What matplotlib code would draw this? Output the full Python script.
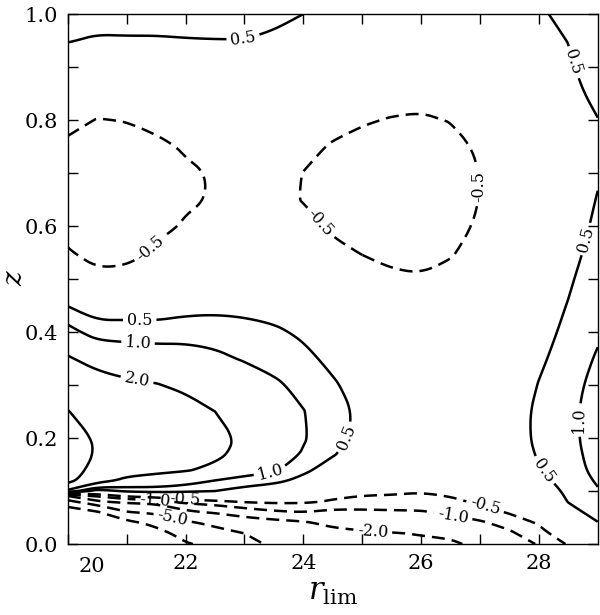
import matplotlib
matplotlib.use("Agg")
import matplotlib.pyplot as plt
from matplotlib.path import Path
from matplotlib.ticker import FormatStrFormatter
import numpy as np

plt.rcParams['font.family'] = ['DejaVu Serif']
plt.rcParams['mathtext.fontset'] = 'dejavuserif'

# grid of the contoured quantity
r_lim = [20.0, 20.5, 21.0, 21.5, 22.0, 22.5, 23.0, 23.5, 24.0, 24.5,
         25.0, 25.5, 26.0, 26.5, 27.0, 27.5, 28.0, 28.5, 29.0]
z = [0.0, 0.02, 0.04, 0.06, 0.08, 0.1, 0.12, 0.14, 0.17, 0.2, 0.25, 0.3, 0.35,
     0.4, 0.45, 0.5, 0.55, 0.6, 0.65, 0.7, 0.75, 0.8, 0.85, 0.9, 0.95, 1.0]

# one row per r_lim column, values going up in z
field_by_r = [
    [-30, -25, -20, -14, -6, 1.5, 6, 7, 7.5, 7, 5.1, 3.2, 2.1, 1.2, 0.48, -0.1, -0.45, -0.7, -0.8, -0.75, -0.6, -0.35, -0.05, 0.25, 0.52, 0.7],
    [-22, -18, -14, -10.5, -2.2, 0.2, 2.5, 3.6, 4.6, 4.5, 3.6, 2.5, 1.6, 0.75, 0.2, -0.35, -0.7, -0.85, -0.9, -0.85, -0.72, -0.52, -0.2, 0.12, 0.45, 0.68],
    [-17, -14, -11.5, -5.2, -1.5, 0.6, 1.7, 2.6, 3.2, 3.3, 2.9, 2.2, 1.4, 0.75, 0.2, -0.3, -0.68, -0.85, -0.9, -0.85, -0.72, -0.48, -0.18, 0.14, 0.46, 0.68],
    [-14, -12, -8.5, -4.3, -1.3, 0.7, 1.5, 2.3, 2.75, 2.85, 2.6, 2.05, 1.35, 0.72, 0.22, -0.15, -0.42, -0.62, -0.7, -0.68, -0.58, -0.4, -0.15, 0.15, 0.46, 0.68],
    [-10.5, -8, -5.6, -2.3, -0.75, 0.6, 1.3, 2.1, 2.6, 2.7, 2.4, 1.8, 1.25, 0.8, 0.3, -0.05, -0.25, -0.46, -0.56, -0.56, -0.46, -0.3, -0.1, 0.18, 0.48, 0.68],
    [-8.5, -6.3, -4.2, -1.8, -0.6, 0.5, 1.0, 1.75, 2.25, 2.35, 2.0, 1.55, 1.12, 0.78, 0.35, 0.0, -0.2, -0.36, -0.47, -0.47, -0.38, -0.25, -0.06, 0.2, 0.49, 0.68],
    [-6.5, -5.0, -2.8, -1.35, -0.45, 0.3, 0.8, 1.3, 1.65, 1.8, 1.65, 1.35, 0.95, 0.68, 0.35, 0.05, -0.12, -0.25, -0.32, -0.32, -0.26, -0.15, 0.0, 0.22, 0.49, 0.7],
    [-4.2, -3.3, -2.4, -1.1, -0.4, 0.15, 0.65, 1.1, 1.35, 1.45, 1.4, 1.1, 0.8, 0.58, 0.3, 0.05, -0.1, -0.22, -0.32, -0.32, -0.26, -0.16, -0.02, 0.18, 0.42, 0.62],
    [-3.6, -2.9, -2.15, -1.0, -0.42, 0.0, 0.35, 0.62, 0.95, 1.05, 1.02, 0.84, 0.62, 0.42, 0.2, 0.02, -0.15, -0.32, -0.53, -0.51, -0.35, -0.18, -0.02, 0.16, 0.34, 0.5],
    [-2.9, -2.4, -1.7, -1.15, -0.55, -0.3, -0.05, 0.25, 0.55, 0.68, 0.7, 0.56, 0.38, 0.22, 0.05, -0.15, -0.38, -0.58, -0.7, -0.7, -0.55, -0.32, -0.12, 0.06, 0.22, 0.38],
    [-2.45, -2.15, -1.6, -1.12, -0.65, -0.38, -0.2, 0.0, 0.2, 0.33, 0.39, 0.3, 0.18, 0.05, -0.1, -0.3, -0.52, -0.7, -0.8, -0.8, -0.66, -0.45, -0.22, -0.04, 0.12, 0.25],
    [-2.3, -2.05, -1.5, -1.08, -0.68, -0.4, -0.22, -0.1, 0.0, 0.05, 0.08, 0.05, -0.02, -0.12, -0.25, -0.42, -0.62, -0.78, -0.86, -0.86, -0.74, -0.53, -0.3, -0.12, 0.02, 0.15],
    [-2.2, -1.95, -1.45, -1.05, -0.72, -0.46, -0.3, -0.18, -0.1, -0.05, -0.04, -0.06, -0.12, -0.2, -0.32, -0.46, -0.64, -0.78, -0.86, -0.86, -0.75, -0.56, -0.34, -0.16, -0.02, 0.1],
    [-2.2, -1.75, -1.25, -0.9, -0.6, -0.38, -0.25, -0.15, -0.08, -0.03, 0.0, -0.02, -0.08, -0.15, -0.25, -0.38, -0.54, -0.68, -0.76, -0.76, -0.66, -0.48, -0.28, -0.1, 0.04, 0.16],
    [-1.7, -1.42, -1.08, -0.72, -0.42, -0.25, -0.14, -0.08, -0.03, 0.0, 0.02, 0.02, 0.0, -0.05, -0.12, -0.22, -0.33, -0.43, -0.49, -0.49, -0.43, -0.3, -0.16, -0.04, 0.08, 0.22],
    [-1.35, -1.1, -0.8, -0.45, -0.25, -0.1, 0.0, 0.08, 0.15, 0.2, 0.2, 0.18, 0.14, 0.1, 0.05, 0.0, -0.05, -0.1, -0.14, -0.15, -0.12, -0.05, 0.02, 0.1, 0.2, 0.3],
    [-0.95, -0.66, -0.45, -0.28, -0.1, 0.15, 0.35, 0.46, 0.56, 0.62, 0.62, 0.52, 0.42, 0.34, 0.27, 0.2, 0.14, 0.1, 0.08, 0.08, 0.1, 0.14, 0.2, 0.27, 0.36, 0.45],
    [-0.45, -0.2, 0.1, 0.32, 0.52, 0.62, 0.7, 0.76, 0.8, 0.83, 0.83, 0.78, 0.7, 0.6, 0.52, 0.44, 0.36, 0.3, 0.26, 0.26, 0.28, 0.33, 0.38, 0.44, 0.51, 0.6],
    [0.1, 0.3, 0.48, 0.68, 0.85, 0.96, 1.06, 1.15, 1.22, 1.28, 1.3, 1.2, 1.06, 0.92, 0.82, 0.74, 0.65, 0.58, 0.52, 0.46, 0.45, 0.49, 0.6, 0.72, 0.85, 0.95],
]

levels = [-10.0, -5.0, -2.0, -1.0, -0.5, 0.5, 1.0, 2.0, 5.0]

# where the contour labels sit (r_lim, z)
label_spots = {
    -5.0: [(21.78, 0.049)],
    -2.0: [(25.18, 0.026)],
    -1.0: [(21.48, 0.083), (26.54, 0.051)],
    -0.5: [(21.39, 0.558), (24.33, 0.611), (27.0, 0.674), (21.99, 0.083), (27.08, 0.068)],
    0.5: [(22.97, 0.96), (28.62, 0.91), (28.85, 0.574), (21.22, 0.413), (24.74, 0.20), (28.1, 0.14)],
    1.0: [(21.19, 0.375), (23.43, 0.14), (28.69, 0.234)],
    2.0: [(21.17, 0.306)],
}


def chaikin(pts, closed, n=3):
    # corner cutting, so the coarse grid does not show as kinks
    for _ in range(n):
        if len(pts) < 3:
            return pts
        if closed:
            q = np.roll(pts, -1, axis=0)
        else:
            q = pts[1:]
        p = pts[:len(q)]
        mid = np.empty((2 * len(p), 2))
        mid[0::2] = 0.75 * p + 0.25 * q
        mid[1::2] = 0.25 * p + 0.75 * q
        if closed:
            pts = mid
        else:
            pts = np.vstack([pts[:1], mid[1:-1], pts[-1:]])
    return pts


def smooth_path(path):
    verts, codes = path.vertices, path.codes
    if codes is None:
        codes = np.full(len(verts), Path.LINETO)
        codes[0] = Path.MOVETO
    starts = list(np.where(codes == Path.MOVETO)[0]) + [len(verts)]
    out_v, out_c = [], []
    for a, b in zip(starts[:-1], starts[1:]):
        seg = verts[a:b]
        closed = codes[b - 1] == Path.CLOSEPOLY
        if closed:
            seg = seg[:-1]
        seg = chaikin(seg, closed)
        c = np.full(len(seg), Path.LINETO)
        c[0] = Path.MOVETO
        if closed:
            seg = np.vstack([seg, seg[:1]])
            c = np.append(c, Path.CLOSEPOLY)
        out_v.append(seg)
        out_c.append(c)
    if not out_v:
        return path
    return Path(np.vstack(out_v), np.concatenate(out_c))


F = np.array(field_by_r).T
R, Z = np.meshgrid(r_lim, z)

fig = plt.figure(figsize=(6.0, 6.15), dpi=100)
ax = fig.add_axes([0.113, 0.1154, 0.8833, 0.8618])

for lev in levels:
    cs = ax.contour(R, Z, F, levels=[lev], colors='black', linewidths=1.8)
    cs.set_paths([smooth_path(p) for p in cs.get_paths()])
    if lev < 0:
        cs.set_linestyle((0, (5.2, 2.8)))
    else:
        cs.set_linestyle('solid')
    if lev in label_spots:
        ax.clabel(cs, fmt='%.1f', fontsize=11.5, inline=True,
                  inline_spacing=4, manual=label_spots[lev])

ax.set_xlim(20, 29)
ax.set_ylim(0, 1)
ax.set_xticks([20, 22, 24, 26, 28])
ax.set_xticklabels(['', '22', '24', '26', '28'])
ax.set_xticks([21, 23, 25, 27], minor=True)
ax.set_yticks([0.0, 0.2, 0.4, 0.6, 0.8, 1.0])
ax.set_yticks([0.1, 0.3, 0.5, 0.7, 0.9], minor=True)
ax.yaxis.set_major_formatter(FormatStrFormatter('%.1f'))
ax.tick_params(which='both', direction='in', top=True, right=True,
               length=7, width=1, labelsize=15, pad=7)
for s in ax.spines.values():
    s.set_linewidth(1.0)

# the "20" label sits a bit right of its tick in the original
ax.annotate('20', xy=(20.41, 0), xycoords=('data', 'axes fraction'),
            xytext=(0, -9.5), textcoords='offset points',
            ha='center', va='top', fontsize=15)

ax.set_xlabel(r'$r_{\rm lim}$', fontsize=22, labelpad=2)
ax.set_ylabel('z', fontsize=20, fontstyle='italic', labelpad=-3)

fig.savefig('out.png', dpi=100)
